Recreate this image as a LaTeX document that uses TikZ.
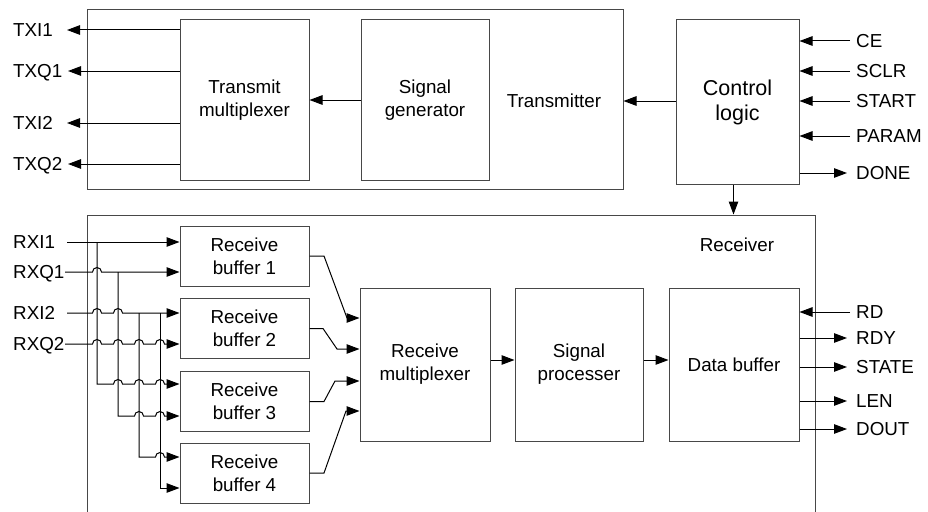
\documentclass[tikz,border=0pt]{standalone}
\usepackage{fontspec}
\setmainfont{Liberation Sans}
\usetikzlibrary{arrows.meta}
\begin{document}
\begin{tikzpicture}[x=1pt,y=-1pt,
  box/.style={draw=black!72,line width=1pt,rectangle,inner sep=0pt,align=center,font=\fontsize{18.8}{23}\selectfont},
  bigbox/.style={box,font=\fontsize{21.5}{25}\selectfont},
  lbl/.style={inner sep=0pt,anchor=west,font=\fontsize{18.8}{23}\selectfont,text height=13.4pt,text depth=0pt},
  txt/.style={inner sep=0pt,font=\fontsize{18.8}{23}\selectfont},
  arr/.style={draw=black,line width=1pt,-{Triangle[length=13pt,width=9.5pt]}},
  hop/.style={start angle=180,end angle=0,radius=4.5pt}]
\clip (0,0) rectangle (928,511);
\fill[white] (0,0) rectangle (928,511);
% Transmitter
\node[box,minimum width=536pt,minimum height=179pt] (tx) at (355,99.5) {};
\node[txt] (txlbl) at (554,101) {Transmitter};
\node[box,minimum width=129pt,minimum height=160pt] (txmux) at (244.5,100) {Transmit\\multiplexer};
\node[box,minimum width=128pt,minimum height=160pt] (siggen) at (425,100) {Signal\\generator};
\node[bigbox,minimum width=123pt,minimum height=164pt] (ctrl) at (737.5,102) {Control\\logic};
% Receiver
\node[box,minimum width=728pt,minimum height=315pt] (rx) at (451,372.5) {};
\node[txt] (rxlbl) at (737,245) {Receiver};
\node[box,minimum width=129pt,minimum height=60pt] (buf1) at (244.5,256) {Receive\\buffer 1};
\node[box,minimum width=129pt,minimum height=60pt] (buf2) at (244.5,328.5) {Receive\\buffer 2};
\node[box,minimum width=129pt,minimum height=60pt] (buf3) at (244.5,401.5) {Receive\\buffer 3};
\node[box,minimum width=129pt,minimum height=60pt] (buf4) at (244.5,473) {Receive\\buffer 4};
\node[box,minimum width=130pt,minimum height=153pt] (rxmux) at (425,364.5) {Receive\\multiplexer};
\node[box,minimum width=128pt,minimum height=153pt] (sigproc) at (579,364.5) {Signal\\processer};
\node[box,minimum width=130pt,minimum height=153pt] (databuf) at (734,364.5) {Data buffer};
% TX labels
\node[lbl] (txi1) at (13,30) {TXI1};
\node[lbl] (txq1) at (13,71) {TXQ1};
\node[lbl] (txi2) at (13,123) {TXI2};
\node[lbl] (txq2) at (13,164) {TXQ2};
\coordinate (txi1c) at (67,30);
\coordinate (txq1c) at (68,71);
\coordinate (txi2c) at (67,123);
\coordinate (txq2c) at (68,164);
\draw[arr] (txmux.west |- txi1c) -- (txi1c);
\draw[arr] (txmux.west |- txq1c) -- (txq1c);
\draw[arr] (txmux.west |- txi2c) -- (txi2c);
\draw[arr] (txmux.west |- txq2c) -- (txq2c);
% internal tx
\draw[arr] (siggen.west) -- (txmux.east);
\draw[arr] (ctrl.west |- txlbl) -- (tx.east |- txlbl);
\draw[arr] ([xshift=-4pt]ctrl.south) -- ([xshift=-4pt]ctrl.south |- rx.north);
% control labels
\node[lbl] (ce) at (856,41) {CE};
\node[lbl] (sclr) at (856,71) {SCLR};
\node[lbl] (start) at (856,101) {START};
\node[lbl] (param) at (856,136) {PARAM};
\node[lbl] (done) at (856,173) {DONE};
\draw[arr] ([xshift=-6pt]ce.west) -- (ctrl.east |- ce.west);
\draw[arr] ([xshift=-6pt]sclr.west) -- (ctrl.east |- sclr.west);
\draw[arr] ([xshift=-6pt]start.west) -- (ctrl.east |- start.west);
\draw[arr] ([xshift=-6pt]param.west) -- (ctrl.east |- param.west);
\draw[arr] (ctrl.east |- done.west) -- ([xshift=-9pt]done.west);
% data buffer labels
\node[lbl] (rd) at (856,312) {RD};
\node[lbl] (rdy) at (856,338) {RDY};
\node[lbl] (state) at (856,367) {STATE};
\node[lbl] (len) at (856,401) {LEN};
\node[lbl] (dout) at (856,429) {DOUT};
\draw[arr] ([xshift=-6pt]rd.west) -- (databuf.east |- rd.west);
\draw[arr] (databuf.east |- rdy.west) -- ([xshift=-9pt]rdy.west);
\draw[arr] (databuf.east |- state.west) -- ([xshift=-9pt]state.west);
\draw[arr] (databuf.east |- len.west) -- ([xshift=-9pt]len.west);
\draw[arr] (databuf.east |- dout.west) -- ([xshift=-9pt]dout.west);
% pipeline
\draw[arr] (rxmux.east |- 0,360) -- (sigproc.west |- 0,360);
\draw[arr] (sigproc.east |- 0,360) -- (databuf.west |- 0,360);
% RX labels and inputs
\node[lbl] (rxi1) at (13,242) {RXI1};
\node[lbl] (rxq1) at (13,272) {RXQ1};
\node[lbl] (rxi2) at (13,313) {RXI2};
\node[lbl] (rxq2) at (13,344) {RXQ2};
\coordinate (rxi1c) at (67,242);
\coordinate (rxq1c) at (65,272);
\coordinate (rxi2c) at (67,313);
\coordinate (rxq2c) at (65,344);
\draw[arr] (rxi1c) -- (buf1.west |- rxi1c);
\draw[arr] (rxq1c) -- (92.5,272) arc[hop] -- (buf1.west |- rxq1c);
\draw[arr] (rxi2c) -- (92.5,313) arc[hop] -- (113.5,313) arc[hop] -- (buf2.west |- rxi2c);
\draw[arr] (rxq2c) -- (92.5,344) arc[hop] -- (113.5,344) arc[hop] -- (134.5,344) arc[hop] -- (155.5,344) arc[hop] -- (buf2.west |- rxq2c);
\draw[arr] (97,242) -- (97,384) -- (113.5,384) arc[hop] -- (134.5,384) arc[hop] -- (155.5,384) arc[hop] -- (buf3.west |- 0,384);
\draw[arr] (118,272) -- (118,416) -- (134.5,416) arc[hop] -- (155.5,416) arc[hop] -- (buf3.west |- 0,416);
\draw[arr] (139,313) -- (139,457) -- (155.5,457) arc[hop] -- (buf4.west |- 0,457);
\draw[arr] (160,313) -- (160,488) -- (buf4.west |- 0,488);
% buffer outputs
\draw[arr] (buf1.east) -- (324,256) -- (347,318) -- (rxmux.west |- 0,318);
\draw[arr] (buf2.east) -- (323,328.5) -- (337,349) -- (rxmux.west |- 0,349);
\draw[arr] (buf3.east) -- (324,401.5) -- (335,381) -- (rxmux.west |- 0,381);
\draw[arr] (buf4.east) -- (324,473) -- (346,411) -- (rxmux.west |- 0,411);
\end{tikzpicture}
\end{document}
